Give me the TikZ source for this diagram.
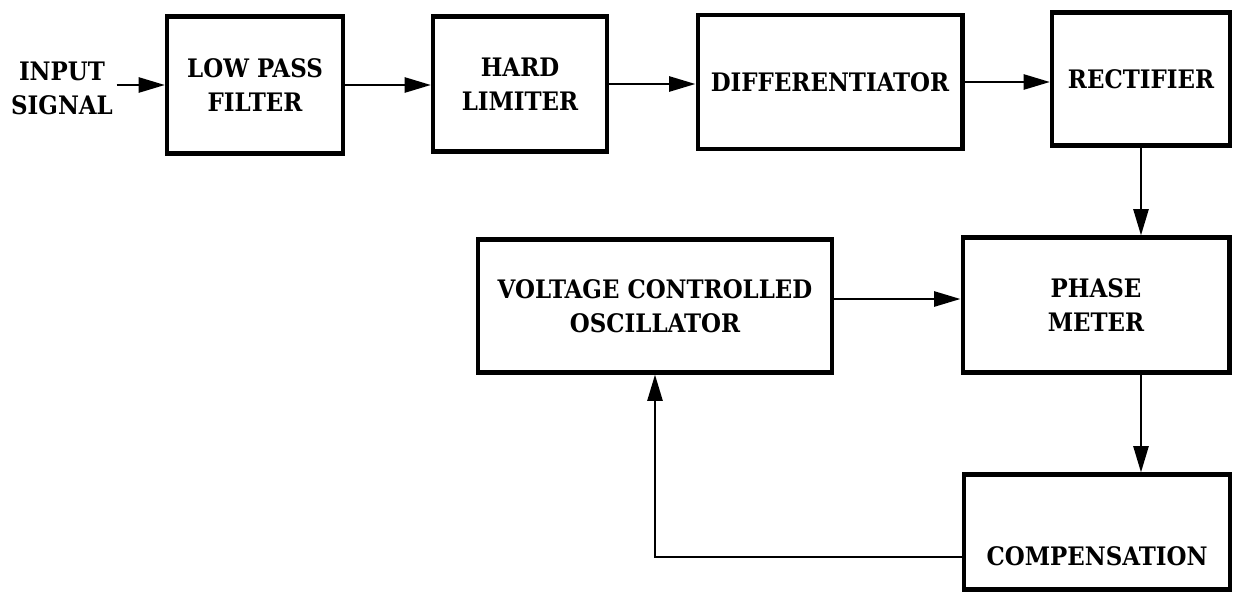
\documentclass[tikz,border=0pt]{standalone}
\usepackage{fontspec}
\setmainfont{DejaVu Serif Condensed}
\usepackage{tikz}
\usetikzlibrary{arrows.meta,positioning,calc}

\begin{document}
\begin{tikzpicture}[
    x=0.02cm, y=-0.02cm,
    box/.style={
        rectangle,
        draw=black,
        line width=2.3pt,
        align=center,
        inner sep=2pt,
        font=\fontsize{14.5}{19.4}\selectfont\bfseries
    },
    lbl/.style={
        align=center,
        inner sep=2pt,
        font=\fontsize{14.5}{19.4}\selectfont\bfseries
    },
    arrow/.style={-{Triangle[length=15pt, width=8.5pt]}, line width=1.6pt}
]

\useasboundingbox (0,0) rectangle (1235,592);

% Input
\node[lbl] (input) at (62, 88) {INPUT\\SIGNAL};

% Forward path
\node[box, minimum width=3.52cm, minimum height=2.74cm] (lpf) at (255, 85) {LOW PASS\\FILTER};
\node[box, minimum width=3.48cm, minimum height=2.70cm] (hl) at (520, 84) {HARD\\LIMITER};
\node[box, minimum width=5.30cm, minimum height=2.68cm] (diff) at (830, 82) {DIFFERENTIATOR};
\node[box, minimum width=3.56cm, minimum height=2.66cm] (rect) at (1141, 79) {RECTIFIER};

% Loop
\node[box, minimum width=5.34cm, minimum height=2.70cm] (pm) at (1096, 305) {PHASE\\METER};
\node[box, minimum width=7.08cm, minimum height=2.66cm] (vco) at (655, 306) {VOLTAGE CONTROLLED\\OSCILLATOR};
\node[box, minimum width=5.32cm, minimum height=2.30cm,
      text height=1.35cm, text depth=0pt] (comp) at (1097, 532) {COMPENSATION};

% Arrows
\draw[arrow] (input.east |- lpf.west) -- (lpf.west);
\draw[arrow] (lpf.east) -- (lpf.east -| hl.west);
\draw[arrow] (hl.east) -- (hl.east -| diff.west);
\draw[arrow] (diff.east) -- (diff.east -| rect.west);
\draw[arrow] (rect.south) -- (rect.south |- pm.north);
\draw[arrow] ([yshift=0.14cm]vco.east) -- ([yshift=0.14cm]vco.east -| pm.west);
\draw[arrow] (rect.south |- pm.south) -- (rect.south |- comp.north);
\draw[arrow] ([yshift=-0.5cm]comp.west) -| (vco.south);

\end{tikzpicture}
\end{document}
